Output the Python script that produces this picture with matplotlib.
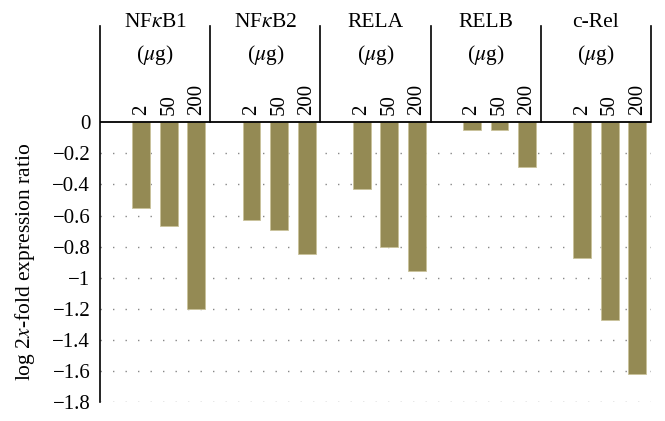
import matplotlib
matplotlib.use("Agg")
import matplotlib.pyplot as plt
import numpy as np

plt.rcParams['font.family'] = ['Liberation Serif', 'DejaVu Serif']
plt.rcParams['mathtext.fontset'] = 'stix'

genes = ["NF$\\kappa$B1", "NF$\\kappa$B2", "RELA", "RELB", "c-Rel"]
doses = ["2", "50", "200"]
values = {
    "NF$\\kappa$B1": [-0.55, -0.67, -1.20],
    "NF$\\kappa$B2": [-0.63, -0.69, -0.85],
    "RELA": [-0.43, -0.80, -0.96],
    "RELB": [-0.05, -0.05, -0.29],
    "c-Rel": [-0.87, -1.27, -1.62],
}
yticks = [0, -0.2, -0.4, -0.6, -0.8, -1, -1.2, -1.4, -1.6, -1.8]
ytick_labels = ["0", "\u22120.2", "\u22120.4", "\u22120.6", "\u22120.8", "\u22121",
                "\u22121.2", "\u22121.4", "\u22121.6", "\u22121.8"]

fig = plt.figure(figsize=(6.65, 4.21), dpi=100)
ax = fig.add_axes([100/665, 19/421, 551/665, 376/421])

top = 0.62
color = "#948a54"
for i, g in enumerate(genes):
    xs = [i*4 + 1 + k for k in range(3)]
    ax.bar(xs, values[g], width=0.65, color=color, edgecolor="#c9c29a", linewidth=0.6, zorder=3)
    for x, d in zip(xs, doses):
        ax.text(x, 0.045, d, rotation=90, ha='center', va='bottom', fontsize=15)
    ax.text(i*4 + 1.5, 0.645, g, ha='center', va='center', fontsize=15.5, clip_on=False)
    ax.text(i*4 + 1.5, 0.435, "($\\mu$g)", ha='center', va='center', fontsize=15.5)
    ax.plot([i*4 + 3.5, i*4 + 3.5], [0, top], color='black', lw=1.2, zorder=4, clip_on=False)

ax.axhline(0, color='black', lw=1.3, zorder=4)
for y in yticks[1:]:
    ax.axhline(y, color='#888888', lw=1.0, linestyle=(0, (1, 8)), zorder=1)

ax.set_xlim(-0.5, 19.5)
ax.set_ylim(-1.8, top)
ax.set_yticks(yticks)
ax.set_yticklabels(ytick_labels, fontsize=15)
ax.tick_params(axis='y', length=0, pad=7)
ax.set_xticks([])
for s in ['top', 'right', 'bottom']:
    ax.spines[s].set_visible(False)
ax.spines['left'].set_linewidth(1.2)

ax.text(-0.136, 0.372, "log 2$x$-fold expression ratio", rotation=90,
        transform=ax.transAxes, ha='center', va='center', fontsize=15.5)

fig.savefig("out.png", dpi=100)
